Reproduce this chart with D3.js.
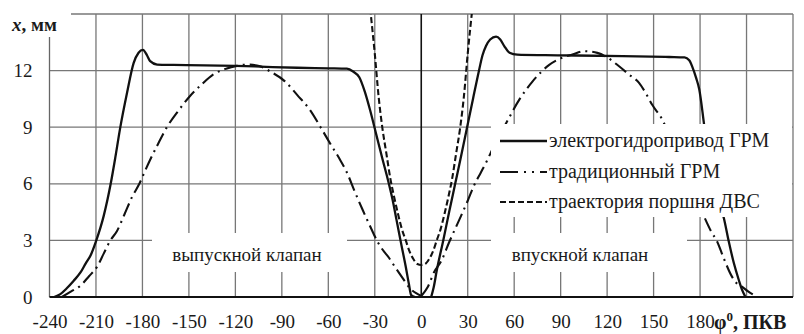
<!DOCTYPE html>
<html>
<head>
<meta charset="utf-8">
<script src="https://cdn.jsdelivr.net/npm/d3@7"></script>
</head>
<body style="margin:0">
<svg id="chart" width="804" height="334"></svg>
<script>
// tick labels
const xTicks = [-240, -210, -180, -150, -120, -90, -60, -30, 0, 30, 60, 90, 120, 150, 180];
const yTicks = [0, 3, 6, 9, 12];
const xGrid = [-210, -180, -150, -120, -90, -60, -30, 30, 60, 90, 120, 150, 180, 210, 240];
const yGrid = [3, 6, 9, 12, 15];

const seriesNames = ['электрогидропривод ГРМ', 'традиционный ГРМ', 'траектория поршня ДВС'];

// [phi, mm]
const electroExhaust = [[-237,0],[-233,0.15],[-229,0.45],[-224.5,0.85],[-220,1.3],[-216.5,1.8],[-213.5,2.2],[-210,2.95],
  [-205,4.3],[-200.5,6.0],[-197.5,7.4],[-194.5,8.9],[-190,10.8],[-185.7,12.4],[-182.5,12.95],[-179.7,13.1],[-177,12.8],
  [-175,12.5],[-170.5,12.32],[-160,12.3],[-140,12.28],[-120,12.25],[-100,12.2],[-80,12.15],[-60,12.12],[-48,12.1],
  [-44,11.95],[-40,11.65],[-36.5,10.9],[-33,9.9],[-29,8.6],[-25,7.3],[-21.5,6.2],[-18.5,5.15],[-16,4.1],[-13.4,3.0],
  [-10,1.6],[-8,0.7],[-6.5,0.1],[-4,0]];
const electroIntake = [[6.4,0],[8,0.5],[10,1.4],[14.2,3.0],[18,4.5],[21.9,6.0],[25.8,7.5],[29.6,9.0],[33.4,10.5],
  [37.4,12.05],[39.5,12.8],[41.8,13.3],[44.5,13.65],[48.3,13.8],[51,13.65],[53.6,13.3],[57,12.95],[62,12.85],[80,12.82],
  [100,12.8],[130,12.77],[160,12.72],[170,12.7],[173,12.55],[175,12.2],[177.5,11.6],[179.5,11.0],[182.5,9.2],[186,7.0],
  [190,5.4],[195.3,4.2],[198.5,2.95],[201.8,1.8],[205,0.9],[207,0.4],[209.3,0]];
const tradExhaust = [[-232,0],[-226,0.3],[-220,0.6],[-214.5,1.1],[-209.3,1.6],[-205,2.3],[-200.7,3.0],[-196.4,3.5],
  [-191.5,4.4],[-186.7,5.3],[-182,6.0],[-178,6.74],[-176,7.1],[-170,8.1],[-164.2,9.0],[-157,9.85],[-149.4,10.64],
  [-142,11.25],[-134.2,11.8],[-126,12.1],[-119,12.25],[-112,12.32],[-104,12.23],[-97.7,11.96],[-88,11.43],[-80,10.7],
  [-72,9.93],[-65,9.0],[-59,8.16],[-52.6,7.3],[-48,6.6],[-43,5.6],[-38,4.65],[-33,3.75],[-28,2.9],[-24,2.4],[-21.5,2.15],
  [-17,1.6],[-12,1.0],[-7.5,0.48],[-3.3,0.2],[0,0.05]];
const tradIntake = [[0,0.05],[4,0.5],[8.5,1.35],[12.9,1.9],[18,2.9],[25.7,4.3],[30,5.1],[34,5.9],[38.5,6.6],[42.9,7.3],
  [48,8.2],[54.7,9.2],[63.3,10.46],[71.9,11.43],[82.6,12.3],[90,12.65],[97.6,12.85],[105,13.03],[113.7,12.94],[120,12.7],
  [127.7,12.23],[134,11.8],[140.6,11.35],[145,10.8],[149,10.2],[155.6,9.4],[160,8.6],[165,7.6],[170,6.6],[175,5.7],
  [183.5,4.1],[187,3.5],[191,2.94],[195.3,2.05],[200.6,1.08],[204,0.7],[207,0.55],[211,0.3],[216,0.05]];
const pistonTrace = [[-33,15.3],[-30,12.9],[-27.5,10.6],[-25,8.9],[-22.5,7.6],[-20,6.3],[-17.5,5.3],[-15,4.4],
  [-12.5,3.6],[-10,3.0],[-7.5,2.4],[-5,2.0],[-2.5,1.75],[0,1.7],[2.5,1.75],[5,2.0],[7.5,2.4],[10,3.0],[12.5,3.6],
  [15,4.4],[17.5,5.3],[20,6.3],[22.5,7.6],[25,8.9],[27.5,10.6],[30,12.9],[33,15.3]];

const svg = d3.select('#chart');
const plotLeft = 49.5, plotRight = 793, plotTop = 14, plotBottom = 297;
const ink = '#1a1a1a';
const serif = 'Liberation Serif, Times New Roman, DejaVu Serif, serif';

const x = d3.scaleLinear().domain([-240, 240]).range([plotLeft, plotRight]);
const y = d3.scaleLinear().domain([0, 15]).range([plotBottom, plotTop]);

// grid
svg.append('g').selectAll('line').data(xGrid).join('line')
  .attr('x1', (d) => x(d)).attr('x2', (d) => x(d)).attr('y1', plotTop).attr('y2', plotBottom)
  .attr('stroke', '#777').attr('stroke-width', 1.3);
svg.append('g').selectAll('line').data(yGrid).join('line')
  .attr('x1', plotLeft).attr('x2', plotRight).attr('y1', (d) => y(d)).attr('y2', (d) => y(d))
  .attr('stroke', '#777').attr('stroke-width', 1.3);
svg.append('line').attr('x1', plotLeft).attr('x2', plotLeft).attr('y1', plotTop).attr('y2', plotBottom)
  .attr('stroke', '#666').attr('stroke-width', 1.3);

// white boxes behind the in-plot labels
svg.append('rect').attr('x', 152).attr('y', 233).attr('width', 195).attr('height', 39).attr('fill', '#fff');
svg.append('rect').attr('x', 491).attr('y', 233).attr('width', 196).attr('height', 39).attr('fill', '#fff');

// zero line
svg.append('line').attr('x1', x(0)).attr('x2', x(0)).attr('y1', plotTop).attr('y2', plotBottom)
  .attr('stroke', '#111').attr('stroke-width', 1.6);

svg.append('clipPath').attr('id', 'plot-clip')
  .append('rect').attr('x', plotLeft).attr('y', plotTop).attr('width', plotRight - plotLeft).attr('height', plotBottom - plotTop);

const line = d3.line().x((d) => x(d[0])).y((d) => y(d[1])).curve(d3.curveMonotoneX);
const plot = svg.append('g').attr('clip-path', 'url(#plot-clip)');

const styles = [
  { dash: null, width: 2.3 },
  { dash: '14,5,2,5', width: 2.1 },
  { dash: '6,3', width: 2.1 },
];

[[tradExhaust, 1], [tradIntake, 1], [pistonTrace, 2], [electroExhaust, 0], [electroIntake, 0]].forEach(([data, s]) => {
  plot.append('path')
    .attr('d', line(data))
    .attr('fill', 'none')
    .attr('stroke', '#111')
    .attr('stroke-width', styles[s].width)
    .attr('stroke-dasharray', styles[s].dash)
    .attr('stroke-linejoin', 'round');
});

svg.append('line').attr('x1', plotLeft).attr('x2', plotRight).attr('y1', plotBottom).attr('y2', plotBottom)
  .attr('stroke', '#111').attr('stroke-width', 2);

// legend
svg.append('rect').attr('x', 491).attr('y', 124).attr('width', 301).attr('height', 93).attr('fill', '#fff');
const legendY = [141, 172, 202];
seriesNames.forEach((name, i) => {
  svg.append('line').attr('x1', 500).attr('x2', 547).attr('y1', legendY[i]).attr('y2', legendY[i])
    .attr('stroke', '#111').attr('stroke-width', styles[i].width)
    .attr('stroke-dasharray', i === 1 ? '18,6,2,6,2,6' : styles[i].dash);
  svg.append('text').attr('x', 549).attr('y', legendY[i] + 6).attr('font-family', serif)
    .attr('font-size', 20).attr('fill', ink).text(name);
});

// in-plot labels
svg.append('text').attr('x', 247).attr('y', 261).attr('text-anchor', 'middle').attr('font-family', serif)
  .attr('font-size', 19).attr('fill', ink).text('выпускной клапан');
svg.append('text').attr('x', 580).attr('y', 261).attr('text-anchor', 'middle').attr('font-family', serif)
  .attr('font-size', 19).attr('fill', ink).text('впускной клапан');

// tick labels
[
  svg.append('g').attr('transform', `translate(0,${plotBottom})`)
    .call(d3.axisBottom(x).tickValues(xTicks).tickSize(0).tickPadding(18).tickFormat((d) => String(d))),
  svg.append('g').attr('transform', `translate(${plotLeft},0)`)
    .call(d3.axisLeft(y).tickValues(yTicks).tickSize(0).tickPadding(17)),
].forEach((g) => {
  g.attr('font-family', serif).attr('font-size', 19);
  g.select('.domain').remove();
  g.selectAll('text').attr('fill', ink);
});

// axis titles
svg.append('rect').attr('x', 0).attr('y', 6).attr('width', 71).attr('height', 31).attr('fill', '#fff');
const yt = svg.append('text').attr('x', 12).attr('y', 31).attr('font-family', serif)
  .attr('font-size', 19).attr('font-weight', 'bold').attr('fill', ink);
yt.append('tspan').attr('font-style', 'italic').text('x');
yt.append('tspan').text(', мм');

const xt = svg.append('text').attr('x', 714).attr('y', 329).attr('font-family', serif)
  .attr('font-size', 20).attr('font-weight', 'bold').attr('fill', ink);
xt.append('tspan').text('φ');
xt.append('tspan').attr('font-size', 13).attr('dy', -8).text('0');
xt.append('tspan').attr('dy', 8).text(', ПКВ');
</script>
</body>
</html>
